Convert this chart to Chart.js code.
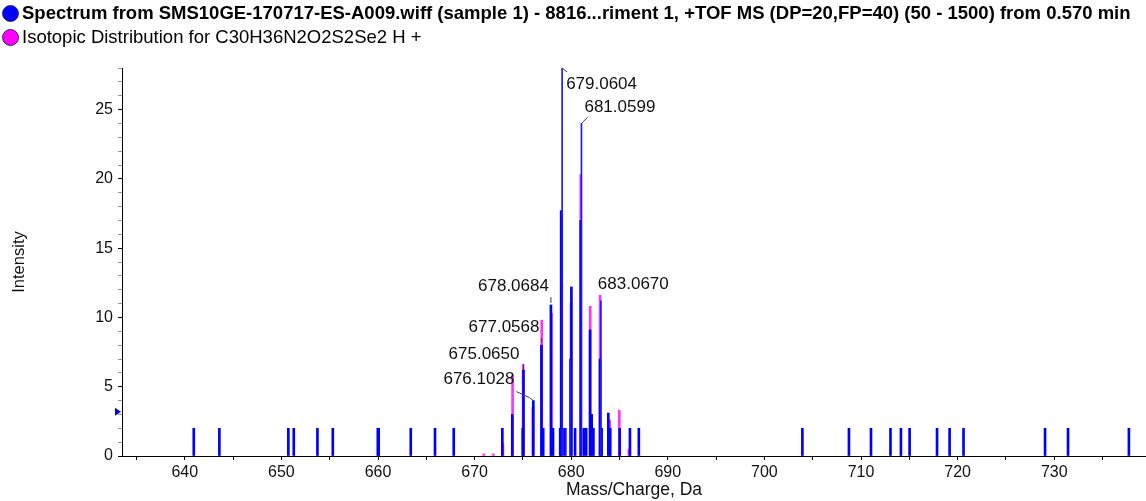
<!DOCTYPE html>
<html>
<head>
<meta charset="utf-8">
<script src="https://cdn.jsdelivr.net/npm/chart.js@4"></script>
<style>
  html, body { margin: 0; padding: 0; background: #fff; }
  #wrap { position: relative; width: 1146px; height: 501px; }
  #legend { position: absolute; left: 2px; top: 1px; font-family: "Liberation Sans", Arial, sans-serif; font-size: 18.5px; color: #000; }
  .item { display: flex; align-items: center; height: 24px; white-space: nowrap; }
  .dot { width: 17px; height: 17px; border-radius: 50%; margin-right: 3px; box-sizing: border-box; border: 1px solid #303050; }
  .bold { font-weight: bold; }
</style>
</head>
<body>
<div id="wrap">
  <div id="legend">
    <div class="item"><span class="dot" style="background:#0000ff"></span><span class="bold">Spectrum from SMS10GE-170717-ES-A009.wiff (sample 1) - 8816...riment 1, +TOF MS (DP=20,FP=40) (50 - 1500) from 0.570 min</span></div>
    <div class="item"><span class="dot" style="background:#ff00ff"></span><span>Isotopic Distribution for C30H36N2O2S2Se2 H +</span></div>
  </div>
  <canvas id="grafico" width="1146" height="501"></canvas>
</div>
<script>
// measured spectrum (blue sticks)
const specMz = [640.93, 643.58, 650.72, 651.28, 653.73, 655.32, 659.98, 660.07, 663.39, 665.90, 667.84,
  672.87, 673.90, 674.98, 675.06, 676.08, 676.92, 677.10, 677.90, 678.12, 678.86, 678.96, 679.30,
  680.02, 680.40, 680.98, 681.30, 681.55, 681.95, 682.12, 682.30, 682.98, 683.15, 683.84, 684.04,
  685.02, 686.08, 687.00, 703.93, 708.75, 711.03, 713.05, 714.13, 715.03, 717.87, 719.17, 720.61,
  729.05, 731.43, 737.73];
const specInt = [2, 2, 2, 2, 2, 2, 2, 2, 2, 2, 2,
  2, 3.0, 2, 6.2, 4.0, 8.0, 2, 10.9, 2, 2, 17.7, 2,
  12.2, 2, 17.0, 2, 2, 9.1, 3.0, 2, 7.0, 2, 3.1, 2,
  2, 2, 2, 2, 2, 2, 2, 2, 2, 2, 2, 2,
  2, 2, 2];
// narrow apex sticks of the spectrum
const apexMz = [679.06, 681.06, 683.07, 679.87, 679.45];
const apexInt = [28.0, 24.0, 11.2, 7.0, 2.0];
// theoretical isotopic distribution (magenta)
const isoMz = [670.95, 671.95, 672.93, 673.93, 675.02, 676.02, 676.95, 677.96, 679.02, 679.98,
  680.99, 681.97, 682.99, 683.98, 684.98, 685.97];
const isoInt = [0.15, 0.15, 0.9, 5.8, 6.6, 3.5, 9.8, 10.3, 17.7, 11.0,
  20.3, 10.8, 11.6, 2.6, 3.3, 0.5];
// peak annotations
const peakText = ['679.0604', '681.0599', '678.0684', '683.0670', '677.0568', '675.0650', '676.1028'];
const peakMz = [679.06, 681.06, 677.90, 683.07, 676.92, 675.06, 676.08];
const peakInt = [28.0, 24.0, 10.9, 11.2, 8.0, 6.2, 4.0];
// axis ticks
const xMajorStep = 10;
const yMajorStep = 5;
const markerLevel = 3.2;

// where each annotation sits relative to its peak (pixels)
const labelLayout = [
  { align: 'left',  dx: 4,   dy: 16,  leader: [[0, 0], [5, 4]] },
  { align: 'left',  dx: 3,   dy: -16, leader: [[0, 0], [6, -6]] },
  { align: 'right', dx: -2,  dy: -19, leader: [[0, -2], [0, -8]] },
  { align: 'left',  dx: -3,  dy: -16, leader: null },
  { align: 'right', dx: -2,  dy: -18, leader: [[0, -2], [0, -7]] },
  { align: 'right', dx: -4,  dy: -16, leader: [[0, 0], [0, -6]] },
  { align: 'right', dx: -19, dy: -21, leader: [[-17, -9], [-4, -3], [0, 0]] }
];

const toPoints = (xs, ys) => xs.map((x, i) => ({ x: x, y: ys[i] }));

const anotacoes = {
  id: 'anotacoes',
  afterDatasetsDraw(chart) {
    const ctx = chart.ctx;
    const xs = chart.scales.x, ys = chart.scales.y;
    ctx.save();
    ctx.font = '17px "Liberation Sans", Arial, sans-serif';
    ctx.textBaseline = 'middle';
    ctx.fillStyle = '#111';
    ctx.strokeStyle = '#444';
    ctx.lineWidth = 1;
    peakText.forEach((t, i) => {
      const px = xs.getPixelForValue(peakMz[i]);
      const py = ys.getPixelForValue(peakInt[i]);
      const l = labelLayout[i];
      if (l.leader) {
        ctx.beginPath();
        l.leader.forEach((p, j) => {
          if (j === 0) ctx.moveTo(px + p[0], py + p[1]);
          else ctx.lineTo(px + p[0], py + p[1]);
        });
        ctx.stroke();
      }
      ctx.textAlign = l.align;
      ctx.fillText(t, px + l.dx, py + l.dy);
    });
    // blue threshold arrow on the y axis
    const ay = ys.getPixelForValue(markerLevel);
    const ax = chart.chartArea.left - 1;
    ctx.fillStyle = '#0000cc';
    ctx.beginPath();
    ctx.moveTo(ax, ay);
    ctx.lineTo(ax - 6, ay - 4);
    ctx.lineTo(ax - 6, ay + 4);
    ctx.closePath();
    ctx.fill();
    ctx.restore();
  }
};

const fonte = { family: '"Liberation Sans", Arial, sans-serif', size: 16 };

new Chart(document.getElementById('grafico').getContext('2d'), {
  type: 'bar',
  data: {
    datasets: [
      {
        label: 'Isotopic Distribution',
        data: toPoints(isoMz, isoInt),
        backgroundColor: '#ff33ff',
        barThickness: 2,
        order: 3
      },
      {
        label: 'Spectrum',
        data: toPoints(specMz, specInt),
        backgroundColor: '#0000ff',
        barThickness: 2,
        order: 2
      },
      {
        label: 'Spectrum apex',
        data: toPoints(apexMz, apexInt),
        backgroundColor: '#1a1aff',
        barThickness: 1,
        order: 1
      }
    ]
  },
  options: {
    responsive: false,
    animation: false,
    layout: { padding: { top: 68, right: 0, left: 0, bottom: 0 } },
    datasets: { bar: { grouped: false, borderWidth: 0 } },
    plugins: { legend: { display: false }, tooltip: { enabled: false } },
    scales: {
      x: {
        type: 'linear',
        min: 633.5,
        max: 739.5,
        offset: false,
        afterFit: s => { s.height = 45; },
        grid: { drawOnChartArea: false, offset: false, tickLength: 4, tickColor: '#000' },
        border: { display: true, color: '#000', width: 1 },
        ticks: {
          stepSize: 5,
          includeBounds: false,
          autoSkip: false,
          maxRotation: 0,
          padding: 3,
          color: '#111',
          font: fonte,
          callback: v => (v % xMajorStep === 0 ? String(v) : '')
        },
        title: { display: true, text: 'Mass/Charge, Da', color: '#111', font: { family: fonte.family, size: 17.5 }, padding: { top: 0, bottom: 0 } }
      },
      y: {
        min: 0,
        max: 28,
        afterFit: s => { s.width = 122; },
        grid: {
          drawOnChartArea: false,
          tickLength: 4,
          tickColor: c => (c.tick && c.tick.value % yMajorStep === 0 ? '#000' : '#999')
        },
        border: { display: true, color: '#000', width: 1 },
        ticks: {
          stepSize: 1,
          autoSkip: false,
          padding: 5,
          color: '#111',
          font: fonte,
          callback: v => (v % yMajorStep === 0 ? String(v) : '')
        },
        title: { display: true, text: 'Intensity', color: '#111', font: { family: fonte.family, size: 16.5 }, padding: { top: 10, bottom: 0 } }
      }
    }
  },
  plugins: [anotacoes]
});
</script>
</body>
</html>
